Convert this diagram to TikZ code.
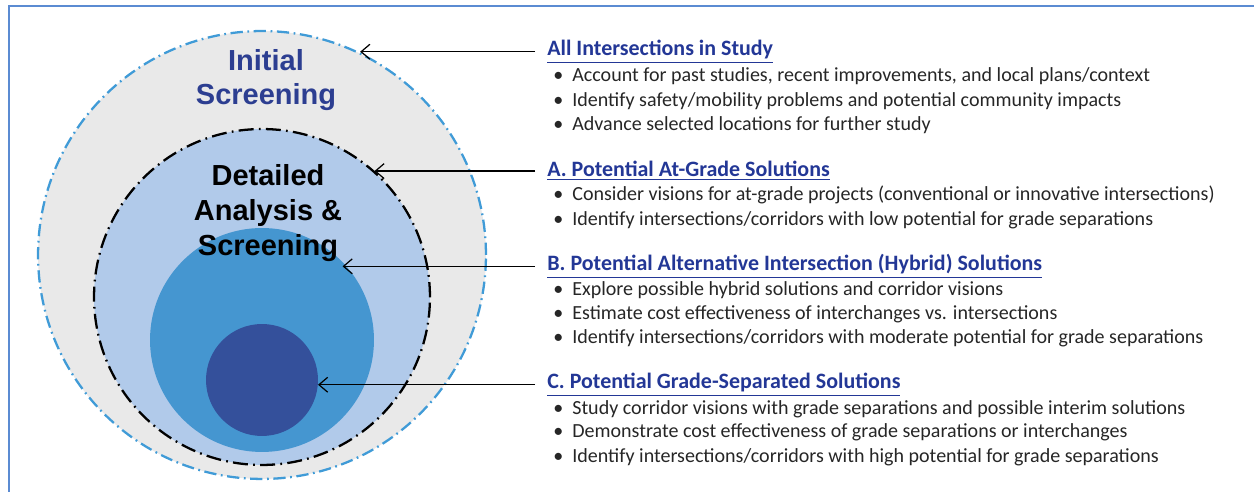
\documentclass[tikz,border=0pt]{standalone}
\usepackage{fontspec}
\setmainfont{Carlito}
\newfontfamily\arialfont{Liberation Sans}
\usetikzlibrary{arrows.meta}

\definecolor{ringblue}{RGB}{64,155,215}
\definecolor{outerfill}{RGB}{233,233,233}
\definecolor{detailfill}{RGB}{177,202,234}
\definecolor{hybridfill}{RGB}{69,150,208}
\definecolor{gradefill}{RGB}{52,80,155}
\definecolor{titleblue}{RGB}{44,62,145}
\definecolor{headblue}{RGB}{35,55,150}
\definecolor{bodygray}{RGB}{38,38,38}
\definecolor{frameblue}{RGB}{91,139,210}

\tikzset{
  ring/.style={circle, inner sep=0pt, outer sep=0pt},
  heading/.style={anchor=base west, inner xsep=0.24cm, inner ysep=0pt, text=headblue, font=\fontsize{12.5}{14}\selectfont\bfseries},
  item/.style={anchor=base west, inner sep=0pt, text=bodygray, font=\fontsize{11.4}{13}\selectfont},
  pointer/.style={-{Straight Barb[length=5pt,width=8.5pt]}, line width=0.7pt},
  bigtext/.style={align=center, font=\arialfont\fontsize{16.5}{19.8}\selectfont\bfseries}
}
\newcommand{\bul}{\makebox[0.38cm][l]{\textbullet}}

\begin{document}
\begin{tikzpicture}[x=0.02cm, y=0.02cm]
    \useasboundingbox (0,0) rectangle (1254,492);

    % Frame
    \draw[frameblue, line width=1.2pt] (9,0) |- (1254,486);

    % Nested circles
    \node[ring, minimum size=8.96cm, fill=outerfill, draw=ringblue, line width=1.3pt,
          dash pattern=on 7pt off 2.6pt on 1pt off 2.6pt] (outer) at (262,237) {};
    \node[ring, minimum size=6.72cm, fill=detailfill, draw=black, line width=1.3pt,
          dash pattern=on 8.5pt off 3pt on 1pt off 3pt] (detail) at (262,195) {};
    \node[ring, minimum size=4.48cm, fill=hybridfill] (hybrid) at (262,152) {};
    \node[ring, minimum size=2.24cm, fill=gradefill] (grade) at (262,112) {};

    % Circle labels
    \node[bigtext, text=titleblue] (initial) at (266,412) {Initial\\Screening};
    \node[bigtext, text=black] (analysis) at (268,279) {Detailed\\Analysis \&\\Screening};

    % All intersections
    \node[heading] (h0) at (535,436) {\underline{All Intersections in Study}};
    \node[item] (i01) at (553,410) {\bul Account for past studies, recent improvements, and local plans/context};
    \node[item] (i02) at (553,385.5) {\bul Identify safety/mobility problems and potential community impacts};
    \node[item] (i03) at (553,361) {\bul Advance selected locations for further study};

    % A
    \node[heading] (hA) at (535,315) {\underline{A. Potential At-Grade Solutions}};
    \node[item] (iA1) at (553,291) {\bul Consider visions for at-grade projects (conventional or innovative intersections)};
    \node[item] (iA2) at (553,266.5) {\bul Identify intersections/corridors with low potential for grade separations};

    % B
    \node[heading] (hB) at (535,221) {\underline{B. Potential Alternative Intersection (Hybrid) Solutions}};
    \node[item] (iB1) at (553,196) {\bul Explore possible hybrid solutions and corridor visions};
    \node[item] (iB2) at (553,172) {\bul Estimate cost effectiveness of interchanges vs. intersections};
    \node[item] (iB3) at (553,148) {\bul Identify intersections/corridors with moderate potential for grade separations};

    % C
    \node[heading] (hC) at (535,103) {\underline{C. Potential Grade-Separated Solutions}};
    \node[item] (iC1) at (553,77) {\bul Study corridor visions with grade separations and possible interim solutions};
    \node[item] (iC2) at (553,54) {\bul Demonstrate cost effectiveness of grade separations or interchanges};
    \node[item] (iC3) at (553,29) {\bul Identify intersections/corridors with high potential for grade separations};

    % Pointers
    \draw[pointer] (h0.west) -- (h0.west -| outer.64);
    \draw[pointer] (hA.west) -- (hA.west -| detail.48);
    \draw[pointer] (hB.west) -- (hB.west -| hybrid.44);
    \draw[pointer] (hC.west) -- (hC.west -| grade.east);
\end{tikzpicture}
\end{document}
